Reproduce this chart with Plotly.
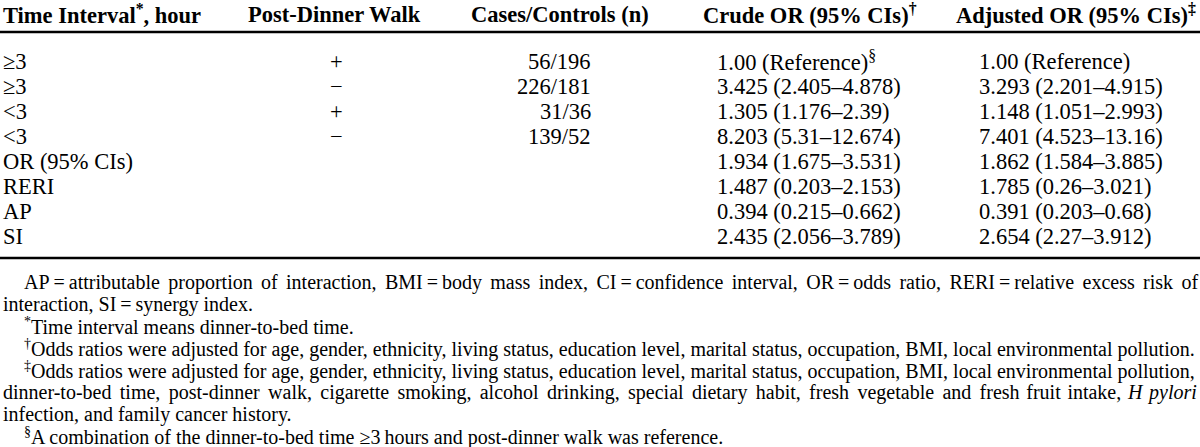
import plotly.graph_objects as go

# table content
headers = ["Time Interval<sup>*</sup>, hour", "Post-Dinner Walk", "Cases/Controls (n)",
           "Crude OR (95% CIs)<sup>†</sup>", "Adjusted OR (95% CIs)<sup>‡</sup>"]
time_interval = ["≥3", "≥3", "<3", "<3", "OR (95% CIs)", "RERI", "AP", "SI"]
walk = ["+", "−", "+", "−", "", "", "", ""]
cases_controls = ["56/196", "226/181", "31/36", "139/52", "", "", "", ""]
crude_or = ["1.00", "3.425", "1.305", "8.203", "1.934", "1.487", "0.394", "2.435"]
crude_ci = ["", "2.405–4.878", "1.176–2.39", "5.31–12.674", "1.675–3.531",
            "0.203–2.153", "0.215–0.662", "2.056–3.789"]
adj_or = ["1.00", "3.293", "1.148", "7.401", "1.862", "1.785", "0.391", "2.654"]
adj_ci = ["", "2.201–4.915", "1.051–2.993", "4.523–13.16", "1.584–3.885",
          "0.26–3.021", "0.203–0.68", "2.27–3.912"]

footnotes = [
    "AP\u2009=\u2009attributable proportion of interaction, BMI\u2009=\u2009body mass index, CI\u2009=\u2009confidence interval, OR\u2009=\u2009odds ratio, RERI\u2009=\u2009relative excess risk of",
    "interaction, SI\u2009=\u2009synergy index.",
    "<sup>*</sup>Time interval means dinner-to-bed time.",
    "<sup>†</sup>Odds ratios were adjusted for age, gender, ethnicity, living status, education level, marital status, occupation, BMI, local environmental pollution.",
    "<sup>‡</sup>Odds ratios were adjusted for age, gender, ethnicity, living status, education level, marital status, occupation, BMI, local environmental pollution,",
    "dinner-to-bed time, post-dinner walk, cigarette smoking, alcohol drinking, special dietary habit, fresh vegetable and fresh fruit intake, <i>H pylori</i>",
    "infection, and family cancer history.",
    "<sup>§</sup>A combination of the dinner-to-bed time ≥3\u2009hours and post-dinner walk was reference.",
]
footnote_indent = [True, False, True, True, True, False, False, True]
# extra hair spaces per word gap to imitate the justified lines
footnote_stretch = [2, 0, 0, 0, 0, 1.8, 0, 0]


def fmt(est, ci, ref_mark):
    if ci == "":
        return est + " (Reference)" + ref_mark
    return est + " (" + ci + ")"


def stretch(text, n):
    if n == 0:
        return text
    parts = text.split(" ")
    gaps = len(parts) - 1
    total = round(n * gaps)
    out = parts[0]
    for k, p in enumerate(parts[1:]):
        extra = total // gaps + (1 if k < total % gaps else 0)
        out += " " + "\u200a" * extra + p
    return out


crude_txt = [fmt(e, c, "<sup>§</sup>") for e, c in zip(crude_or, crude_ci)]
adj_txt = [fmt(e, c, "") for e, c in zip(adj_or, adj_ci)]

W, H = 1200, 447
FONT = "Liberation Serif, Times New Roman, serif"
TSIZE = 22.5
NSIZE = 20

# layout of columns: (x, anchor)
head_pos = [(1, "left"), (334, "center"), (560, "center"), (810, "center"), (1076, "center")]
col_pos = [(1, "left"), (336, "center"), (593, "right"), (715, "left"), (977, "left")]
head_y = 14
row_y0, row_dy = 61, 25
note_y0, note_dy = 282, 22

fig = go.Figure()
anns = []
for (x, anc), h in zip(head_pos, headers):
    anns.append(dict(x=x, y=head_y, text="<b>" + h + "</b>", xanchor=anc, yanchor="middle",
                     showarrow=False, font=dict(size=TSIZE, family=FONT, color="black")))

columns = [time_interval, walk, cases_controls, crude_txt, adj_txt]
for (x, anc), col in zip(col_pos, columns):
    for i, t in enumerate(col):
        if t == "":
            continue
        anns.append(dict(x=x, y=row_y0 + i * row_dy, text=t, xanchor=anc, yanchor="middle",
                         showarrow=False, font=dict(size=TSIZE, family=FONT, color="black")))

for i, (t, ind, s) in enumerate(zip(footnotes, footnote_indent, footnote_stretch)):
    anns.append(dict(x=22 if ind else 1, y=note_y0 + i * note_dy, text=stretch(t, s),
                     xanchor="left", yanchor="middle", showarrow=False,
                     font=dict(size=NSIZE, family=FONT, color="black")))

shapes = [
    dict(type="line", x0=0, x1=W, y0=32, y1=32, line=dict(color="black", width=2.5)),
    dict(type="line", x0=0, x1=W, y0=258, y1=258, line=dict(color="black", width=2.5)),
]

fig.update_layout(
    width=W, height=H,
    margin=dict(l=0, r=0, t=0, b=0),
    plot_bgcolor="white", paper_bgcolor="white",
    xaxis=dict(range=[0, W], visible=False, fixedrange=True),
    yaxis=dict(range=[H, 0], visible=False, fixedrange=True),
    annotations=anns, shapes=shapes, showlegend=False,
)

# page body has a default 8px margin; drop it so the figure sits at the corner
fig.write_html("out.html", config={"displayModeBar": False},
               post_script="document.body.style.margin='0';")
